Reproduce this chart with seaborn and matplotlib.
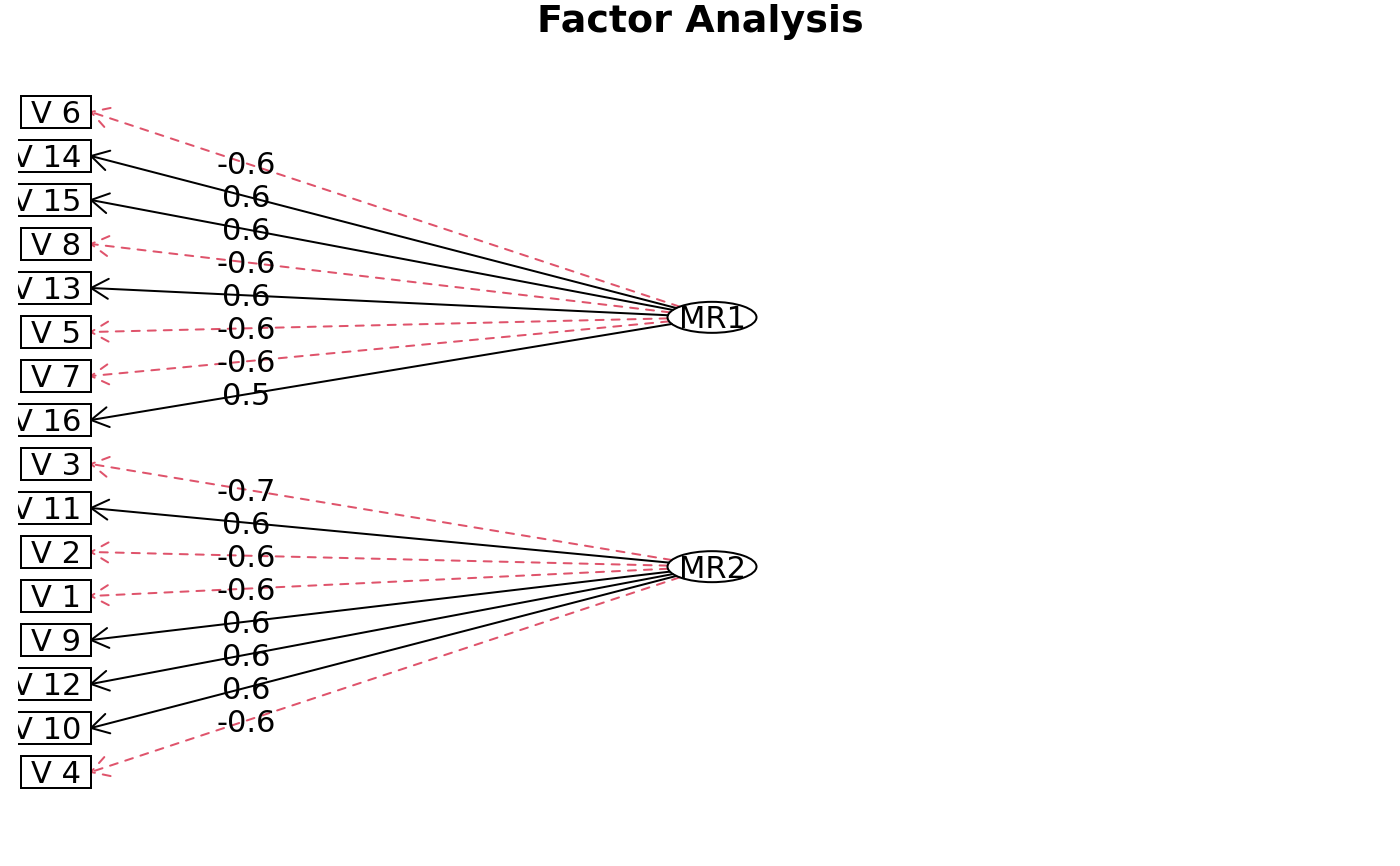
import numpy as np
import matplotlib
matplotlib.use("Agg")
import matplotlib.pyplot as plt
from matplotlib.patches import Rectangle, Ellipse
import seaborn as sns

# ---- data ----
factors = ["MR1", "MR2"]
mr1_vars = ["V 6", "V 14", "V 15", "V 8", "V 13", "V 5", "V 7", "V 16"]
mr1_loadings = [-0.6, 0.6, 0.6, -0.6, 0.6, -0.6, -0.6, 0.5]
mr2_vars = ["V 3", "V 11", "V 2", "V 1", "V 9", "V 12", "V 10", "V 4"]
mr2_loadings = [-0.7, 0.6, -0.6, -0.6, 0.6, 0.6, 0.6, -0.6]
title = "Factor Analysis"

sns.set_theme(style="white")
plt.rcParams["font.family"] = ["DejaVu Sans"]
plt.rcParams["text.color"] = "black"

W, H = 1400, 866
fig = plt.figure(figsize=(W / 100, H / 100), dpi=100)
clip_left = 18
ax = fig.add_axes([clip_left / W, 0, 1 - 2 * clip_left / W, 1])
ax.set_xlim(clip_left, W - clip_left)
ax.set_ylim(H, 0)
ax.set_axis_off()

RED = "#DF536B"
FS = 22
LW = 1.44
em = FS * 100 / 72.0
cap_half = 0.729 * em / 2

# layout
row0, row_step = 112, 44
var_right = 91
box_h = 32
box_pad = 10
fac_x = 712
ell_w, ell_h = 89, 31
n_vars = len(mr1_vars) + len(mr2_vars)
f_scale = (n_vars + 1) / (len(factors) + 1)
label_frac = 0.25
head_len, head_ang = 20, np.deg2rad(30)

groups = [(mr1_vars, mr1_loadings), (mr2_vars, mr2_loadings)]
renderer = fig.canvas.get_renderer()

k = 0
for fi, (fname, (vars_, loads)) in enumerate(zip(factors, groups)):
    fy = row0 + (f_scale * (fi + 1) - 1) * row_step
    for v, l in zip(vars_, loads):
        vy = row0 + k * row_step
        k += 1
        col = "black" if l > 0 else RED
        ls = "-" if l > 0 else (0, (4, 4))
        # endpoint at ellipse boundary
        dx, dy = var_right - fac_x, vy - fy
        t = 1.0 / np.sqrt((dx / (ell_w / 2)) ** 2 + (dy / (ell_h / 2)) ** 2)
        ex, ey = fac_x + dx * t, fy + dy * t
        ax.plot([ex, var_right], [ey, vy], color=col, lw=LW, ls=ls,
                solid_capstyle="round", dash_capstyle="round", zorder=2)
        # arrow head at variable (single polyline arm-tip-arm)
        ang = np.arctan2(ey - vy, ex - var_right)
        a1, a2 = ang + head_ang, ang - head_ang
        hx = [var_right + head_len * np.cos(a1), var_right,
              var_right + head_len * np.cos(a2)]
        hy = [vy + head_len * np.sin(a1), vy, vy + head_len * np.sin(a2)]
        ax.plot(hx, hy, color=col, lw=LW, ls=ls, solid_capstyle="round",
                dash_capstyle="round", solid_joinstyle="round", zorder=2)
        # loading label
        lx = var_right + label_frac * (fac_x - var_right)
        ly = vy + label_frac * (fy - vy)
        ax.text(lx, ly + cap_half, f"{l:.1f}", ha="center", va="baseline",
                fontsize=FS, color="black", zorder=3)
        # variable box
        txt = ax.text(0, 0, v, fontsize=FS, ha="center", va="baseline")
        tw = txt.get_window_extent(renderer).width
        txt.remove()
        bw = tw + 2 * box_pad
        bx = var_right - bw
        ax.add_patch(Rectangle((bx, vy - box_h / 2), bw, box_h, fill=True,
                               facecolor="white", edgecolor="black", lw=LW,
                               zorder=4, clip_on=True))
        ax.text(bx + bw / 2, vy + cap_half, v, ha="center", va="baseline",
                fontsize=FS, color="black", zorder=5, clip_on=True)
    ax.add_patch(Ellipse((fac_x, fy), ell_w, ell_h, facecolor="none",
                         edgecolor="black", lw=LW, zorder=4))
    ax.text(fac_x, fy + cap_half, fname, ha="center", va="baseline",
            fontsize=FS, color="black", zorder=5)

fig.text(0.5, 1 - 31.5 / H, title, ha="center", va="baseline",
         fontsize=27.4, fontweight="bold", color="black")

fig.savefig("out.png", dpi=100)
